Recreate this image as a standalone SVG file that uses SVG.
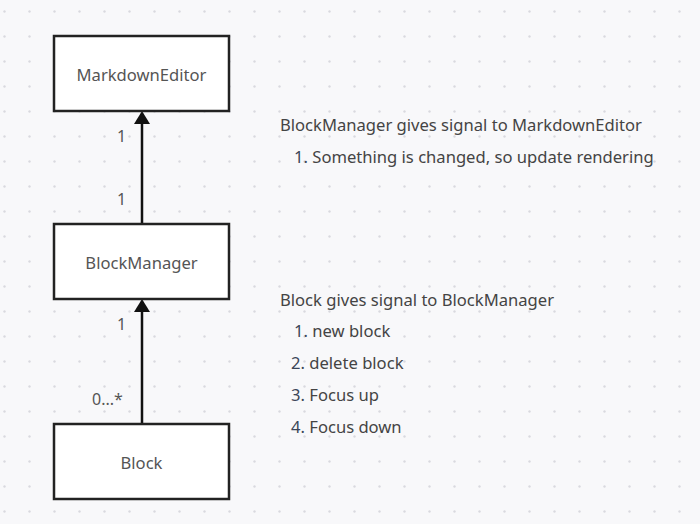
<svg xmlns="http://www.w3.org/2000/svg" width="700" height="524" viewBox="0 0 700 524">
<defs>
<pattern id="dots" x="0" y="0" width="25" height="25" patternUnits="userSpaceOnUse">
<circle cx="4.5" cy="11.5" r="1.2" fill="#d9d9df"/>
</pattern>
<style>
.box{fill:#fff;stroke:#222;stroke-width:2.5}
.lbl{font-family:"Noto Sans","Open Sans",sans-serif;font-size:16.6px;fill:#555;text-anchor:middle}
.mult{font-family:"Noto Sans","Open Sans",sans-serif;font-size:16px;fill:#555}
.note{font-family:"Noto Sans","Open Sans",sans-serif;font-size:16.6px;fill:#444}
.num{fill:#3b4658}
.edge{stroke:#111;stroke-width:2.5;fill:none}
</style>
</defs>
<rect width="700" height="524" fill="#f8f8fa"/>
<rect width="700" height="524" fill="url(#dots)"/>
<g id="connectors">
<path class="edge" d="M142,224 L142,124"/>
<path d="M134,124 L150,124 L142,111 Z" fill="#111"/>
<path class="edge" d="M142,424 L142,312"/>
<path d="M134,312 L150,312 L142,299 Z" fill="#111"/>
<text class="mult" x="117" y="142">1</text>
<text class="mult" x="117" y="205">1</text>
<text class="mult" x="117" y="330">1</text>
<text class="mult" x="92" y="405">0...*</text>
</g>
<g id="MarkdownEditor">
<rect class="box" x="54" y="36" width="175" height="75"/>
<text class="lbl" x="141.5" y="81">MarkdownEditor</text>
</g>
<g id="BlockManager">
<rect class="box" x="54" y="224" width="175" height="75"/>
<text class="lbl" x="141.5" y="269">BlockManager</text>
</g>
<g id="Block">
<rect class="box" x="54" y="424" width="175" height="75"/>
<text class="lbl" x="141.5" y="469">Block</text>
</g>
<g id="note1">
<text class="note" x="280" y="131">BlockManager gives signal to MarkdownEditor</text>
<text class="note" x="294" y="163"><tspan class="num">1.</tspan> Something is changed, so update rendering</text>
</g>
<g id="note2">
<text class="note" x="280" y="306">Block gives signal to BlockManager</text>
<text class="note" x="294" y="337"><tspan class="num">1.</tspan> new block</text>
<text class="note" x="291" y="369"><tspan class="num">2.</tspan> delete block</text>
<text class="note" x="291" y="401"><tspan class="num">3.</tspan> Focus up</text>
<text class="note" x="291" y="433"><tspan class="num">4.</tspan> Focus down</text>
</g>
</svg>
